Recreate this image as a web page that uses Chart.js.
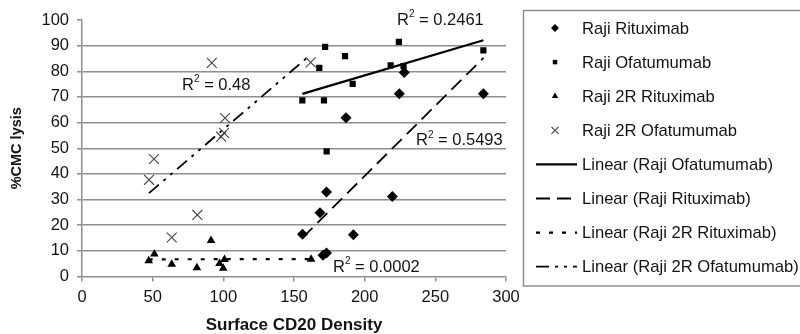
<!DOCTYPE html>
<html><head><meta charset="utf-8">
<script src="https://cdn.jsdelivr.net/npm/chart.js@4"></script>
<style>html,body{margin:0;padding:0;background:#fff}#wrap{width:800px;height:334px}</style>
</head><body><div id="wrap"><canvas id="c" width="800" height="334"></canvas></div>
<script>
// ---- data ----
const rituxX = [173, 219.6, 168.4, 156, 192, 170.5, 173, 186.8, 224.5, 284, 228];
const rituxY = [32.9, 31.2, 24.9, 16.5, 16.3, 8.3, 9.2, 61.9, 71.2, 71.2, 79.5];
const ofaX = [172, 186.1, 167.9, 224.2, 218.4, 227.5, 191.5, 155.9, 171.2, 284, 173.1];
const ofaY = [89.5, 85.9, 81.3, 91.5, 82.3, 82, 75.1, 68.7, 68.7, 88.2, 48.8];
const r2rX = [47.2, 51.2, 63.5, 81.3, 91.3, 97.3, 100.8, 99.9, 162.1];
const r2rY = [6.1, 8.8, 4.8, 3.4, 14.0, 5.1, 6.6, 3.2, 6.7];
const o2rX = [91.8, 101.2, 98.5, 100.5, 50.9, 47.4, 81.6, 63.5, 161.8];
const o2rY = [83.3, 61.8, 54.5, 56, 45.8, 37.7, 24, 15.2, 83.5];
// trend line end points
const ofaTrendX = [155.9, 284], ofaTrendY = [71.2, 92.1];
const rituxTrendX = [156, 284], rituxTrendY = [15.1, 85.2];
const r2rTrendX = [47.2, 162.1], r2rTrendY = [6.7, 6.8];
const o2rTrendX = [47.4, 161.8], o2rTrendY = [32.5, 86.5];
// R² labels
const r2Values = ['0.48', '0.2461', '0.5493', '0.0002'];
const xTicks = [0, 50, 100, 150, 200, 250, 300];
const yTicks = [0, 10, 20, 30, 40, 50, 60, 70, 80, 90, 100];

// ---- presentation ----
const r2Anchors = [[70.8, 74.8], [222.9, 100.2], [236.3, 53.3], [177.6, 4.1]];
const GRID = '#8e8e8e';
const TXT = '#141414';
const FONT = "'Liberation Sans', Arial, sans-serif";
const pts = (xs, ys) => xs.map((x, i) => ({x, y: ys[i]}));

const datasets = [
  {label:'Raji Rituximab', data:pts(rituxX,rituxY), pointStyle:'rectRot', pointRadius:5.5, backgroundColor:'#000', borderColor:'#000', borderWidth:0, showLine:false},
  {label:'Raji Ofatumumab', data:pts(ofaX,ofaY), pointStyle:'rect', pointRadius:4.4, backgroundColor:'#000', borderColor:'#000', borderWidth:0, showLine:false},
  {label:'Raji 2R Rituximab', data:pts(r2rX,r2rY), pointStyle:'triangle', pointRadius:5, backgroundColor:'#000', borderColor:'#000', borderWidth:0, showLine:false},
  {label:'Raji 2R Ofatumumab', data:pts(o2rX,o2rY), pointStyle:'crossRot', pointRadius:7, backgroundColor:'#444', borderColor:'#444', borderWidth:1.1, showLine:false},
  {label:'Linear (Raji Ofatumumab)', data:pts(ofaTrendX,ofaTrendY), showLine:true, pointRadius:0, borderColor:'#000', borderWidth:2.2, borderDash:[]},
  {label:'Linear (Raji Rituximab)', data:pts(rituxTrendX,rituxTrendY), showLine:true, pointRadius:0, borderColor:'#000', borderWidth:1.8, borderDash:[14,7]},
  {label:'Linear (Raji 2R Rituximab)', data:pts(r2rTrendX,r2rTrendY), showLine:true, pointRadius:0, borderColor:'#000', borderWidth:2.2, borderDash:[4,9]},
  {label:'Linear (Raji 2R Ofatumumab)', data:pts(o2rTrendX,o2rTrendY), showLine:true, pointRadius:0, borderColor:'#000', borderWidth:1.8, borderDash:[13,6,3,6,3,6]}
];

const legendPlugin = {
  id: 'boxLegend',
  afterDraw(chart) {
    const ctx = chart.ctx;
    ctx.save();
    ctx.strokeStyle = GRID; ctx.lineWidth = 1.5; ctx.setLineDash([]);
    ctx.strokeRect(523.5, 10.5, 320, 275.5);
    ctx.font = '16.6px ' + FONT; ctx.textBaseline = 'middle'; ctx.fillStyle = TXT;
    chart.data.datasets.forEach((ds, i) => {
      const y = 28 + i * 34.1;
      ctx.save();
      if (ds.showLine) {
        ctx.strokeStyle = ds.borderColor; ctx.lineWidth = ds.borderWidth;
        ctx.setLineDash(ds.borderDash || []);
        ctx.beginPath(); ctx.moveTo(536, y); ctx.lineTo(577, y); ctx.stroke();
      } else {
        ctx.fillStyle = ds.backgroundColor; ctx.strokeStyle = ds.borderColor;
        ctx.lineWidth = ds.borderWidth || 1;
        Chart.helpers.drawPoint(ctx, {pointStyle: ds.pointStyle, rotation: 0,
          radius: ds.pointStyle === 'crossRot' ? 5 : ds.pointRadius * 0.72,
          borderWidth: ds.borderWidth}, 555, y);
      }
      ctx.restore();
      ctx.fillStyle = TXT;
      ctx.font = '16.6px ' + FONT;
      ctx.fillText(ds.label, 582, y + 1);
    });
    // R² labels
    const xs = chart.scales.x, ys = chart.scales.y;
    r2Values.forEach((v, i) => {
      let px = xs.getPixelForValue(r2Anchors[i][0]);
      const py = ys.getPixelForValue(r2Anchors[i][1]);
      ctx.font = '16.5px ' + FONT; ctx.textBaseline = 'middle'; ctx.textAlign = 'left';
      ctx.fillText('R', px, py + 1);
      px += ctx.measureText('R').width;
      ctx.font = '10px ' + FONT;
      ctx.fillText('2', px, py - 5);
      px += ctx.measureText('2').width;
      ctx.font = '16.5px ' + FONT;
      ctx.fillText(' = ' + v, px, py + 1);
    });
    ctx.restore();
  }
};

new Chart(document.getElementById('c'), {
  type: 'scatter',
  data: {datasets},
  plugins: [legendPlugin],
  options: {
    responsive: false, animation: false, devicePixelRatio: 1,
    layout: {padding: {left: 0, right: 294, top: 20, bottom: 0}},
    plugins: {legend: {display: false}, tooltip: {enabled: false}},
    scales: {
      x: {
        type: 'linear', min: 0, max: 300,
        afterBuildTicks: s => { s.ticks = xTicks.map(v => ({value: v})); },
        afterFit: s => { s.height = 57.5; },
        grid: {color: 'transparent', tickColor: GRID, drawTicks: true, tickLength: 5, lineWidth: 1.5},
        border: {display: true, color: GRID, width: 1.5},
        ticks: {color: TXT, font: {family: FONT, size: 16.5}, padding: 6, maxRotation: 0},
        title: {display: true, text: 'Surface CD20 Density', color: TXT,
          font: {family: FONT, size: 17, weight: 'bold', lineHeight: 1}, padding: {top: 0, bottom: 0}}
      },
      y: {
        type: 'linear', min: 0, max: 100,
        afterBuildTicks: s => { s.ticks = yTicks.map(v => ({value: v})); },
        afterFit: s => { s.width = 82; },
        grid: {color: c => (c.tick && (c.tick.value === 100 || c.tick.value === 0)) ? 'transparent' : GRID,
          tickColor: GRID, drawTicks: true, tickLength: 5, lineWidth: 1.5},
        border: {display: true, color: GRID, width: 1.5},
        ticks: {color: TXT, font: {family: FONT, size: 16.5}, padding: 8},
        title: {display: true, text: '%CMC lysis', color: TXT,
          font: {family: FONT, size: 14.5, weight: 'bold', lineHeight: 1}, padding: {top: 10, bottom: 0}}
      }
    }
  }
});
</script>
</body></html>
